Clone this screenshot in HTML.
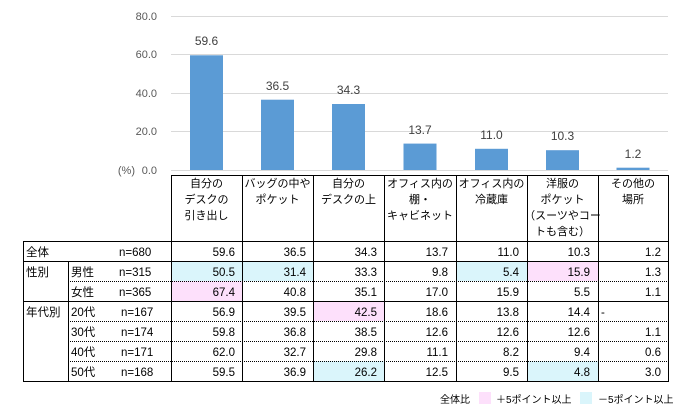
<!DOCTYPE html>
<html><head><meta charset="utf-8"><style>
body{margin:0;background:#fff}
svg{display:block;font-family:"Liberation Sans","Noto Sans CJK JP",sans-serif}
</style></head><body>
<svg width="685" height="411" viewBox="0 0 685 411" xmlns="http://www.w3.org/2000/svg">
<g stroke="#d9d9d9" stroke-width="1">
<line x1="171" y1="16.5" x2="668" y2="16.5"/><line x1="171" y1="54.5" x2="668" y2="54.5"/>
<line x1="171" y1="93.5" x2="668" y2="93.5"/><line x1="171" y1="131.5" x2="668" y2="131.5"/>
<line x1="171" y1="170.5" x2="668" y2="170.5"/></g>
<g font-size="11" fill="#595959" text-anchor="end">
<text x="157" y="20">80.0</text><text x="157" y="58">60.0</text><text x="157" y="97">40.0</text>
<text x="157" y="135">20.0</text><text x="157" y="174">0.0</text><text x="135" y="174">(%)</text></g>
<g fill="#5b9bd5">
<rect x="190" y="55.3" width="33" height="114.7"/><rect x="261" y="99.7" width="33" height="70.3"/>
<rect x="332" y="104" width="33" height="66"/><rect x="403.5" y="143.6" width="33" height="26.4"/>
<rect x="475" y="148.8" width="33" height="21.2"/><rect x="546" y="150.2" width="33" height="19.8"/>
<rect x="616.5" y="167.7" width="33" height="2.3"/></g>
<g font-size="12" fill="#404040" text-anchor="middle">
<text x="206.5" y="45">59.6</text><text x="277.5" y="90">36.5</text><text x="348.5" y="94">34.3</text>
<text x="420" y="134">13.7</text><text x="491.5" y="139">11.0</text><text x="562.5" y="140">10.3</text><text x="633" y="158">1.2</text></g>
<!-- highlights -->
<g fill="#fde0fb"><rect x="171" y="281" width="71" height="20"/><rect x="313" y="301" width="71" height="20"/><rect x="527" y="261" width="71" height="20"/></g>
<g fill="#daf5fb"><rect x="171" y="261" width="71" height="20"/><rect x="242" y="261" width="71" height="20"/><rect x="456" y="261" width="71" height="20"/><rect x="313" y="361" width="71" height="20"/><rect x="527" y="361" width="71" height="20"/></g>
<!-- grid -->
<g stroke="#000" stroke-width="1" fill="none">
<line x1="171" y1="175.5" x2="668" y2="175.5"/>
<line x1="23" y1="241.5" x2="668" y2="241.5"/>
<line x1="23" y1="261.5" x2="668" y2="261.5"/>
<line x1="23" y1="301.5" x2="668" y2="301.5"/>
<line x1="23" y1="381.5" x2="668" y2="381.5"/>
<line x1="23.5" y1="241" x2="23.5" y2="382"/>
<line x1="68.5" y1="261" x2="68.5" y2="382"/>
<line x1="171.5" y1="175" x2="171.5" y2="382"/><line x1="242.5" y1="175" x2="242.5" y2="382"/>
<line x1="313.5" y1="175" x2="313.5" y2="382"/><line x1="384.5" y1="175" x2="384.5" y2="382"/>
<line x1="456.5" y1="175" x2="456.5" y2="382"/><line x1="527.5" y1="175" x2="527.5" y2="382"/>
<line x1="598.5" y1="175" x2="598.5" y2="382"/><line x1="668.5" y1="175" x2="668.5" y2="382"/>
</g>
<g stroke="#000" stroke-width="1" stroke-dasharray="1,1">
<line x1="68" y1="281.5" x2="668" y2="281.5"/><line x1="68" y1="321.5" x2="668" y2="321.5"/>
<line x1="68" y1="341.5" x2="668" y2="341.5"/><line x1="68" y1="361.5" x2="668" y2="361.5"/></g>
<!-- header -->
<g font-size="11" fill="#000" text-anchor="middle">
<text x="206.5" y="187">自分の</text><text x="206.5" y="203">デスクの</text><text x="206.5" y="219">引き出し</text>
<text x="277.5" y="187">バッグの中や</text><text x="277.5" y="203">ポケット</text>
<text x="348.5" y="187">自分の</text><text x="348.5" y="203">デスクの上</text>
<text x="420" y="187">オフィス内の</text><text x="420" y="203">棚・</text><text x="420" y="219">キャビネット</text>
<text x="491.5" y="187">オフィス内の</text><text x="491.5" y="203">冷蔵庫</text>
<text x="562.5" y="187">洋服の</text><text x="562.5" y="203">ポケット</text><text x="562.5" y="219">（スーツやコー</text><text x="562.5" y="235">トも含む）</text>
<text x="633" y="187">その他の</text><text x="633" y="203">場所</text></g>
<!-- row labels -->
<g font-size="11.5" fill="#000">
<text x="26" y="256">全体</text><text x="119" y="256">n=680</text>
<text x="26" y="276">性別</text><text x="71" y="276">男性</text><text x="119" y="276">n=315</text>
<text x="71" y="296">女性</text><text x="119" y="296">n=365</text>
<text x="26" y="316">年代別</text><text x="71" y="316">20代</text><text x="121" y="316">n=167</text>
<text x="71" y="336">30代</text><text x="121" y="336">n=174</text>
<text x="71" y="356">40代</text><text x="121" y="356">n=171</text>
<text x="71" y="376">50代</text><text x="121" y="376">n=168</text>
<text x="601" y="316">-</text></g>
<g font-size="11.5" fill="#000" text-anchor="end">
<text x="235" y="256">59.6</text><text x="306" y="256">36.5</text><text x="377" y="256">34.3</text><text x="448" y="256">13.7</text><text x="519" y="256">11.0</text><text x="590" y="256">10.3</text><text x="661" y="256">1.2</text>
<text x="235" y="276">50.5</text><text x="306" y="276">31.4</text><text x="377" y="276">33.3</text><text x="448" y="276">9.8</text><text x="519" y="276">5.4</text><text x="590" y="276">15.9</text><text x="661" y="276">1.3</text>
<text x="235" y="296">67.4</text><text x="306" y="296">40.8</text><text x="377" y="296">35.1</text><text x="448" y="296">17.0</text><text x="519" y="296">15.9</text><text x="590" y="296">5.5</text><text x="661" y="296">1.1</text>
<text x="235" y="316">56.9</text><text x="306" y="316">39.5</text><text x="377" y="316">42.5</text><text x="448" y="316">18.6</text><text x="519" y="316">13.8</text><text x="590" y="316">14.4</text>
<text x="235" y="336">59.8</text><text x="306" y="336">36.8</text><text x="377" y="336">38.5</text><text x="448" y="336">12.6</text><text x="519" y="336">12.6</text><text x="590" y="336">12.6</text><text x="661" y="336">1.1</text>
<text x="235" y="356">62.0</text><text x="306" y="356">32.7</text><text x="377" y="356">29.8</text><text x="448" y="356">11.1</text><text x="519" y="356">8.2</text><text x="590" y="356">9.4</text><text x="661" y="356">0.6</text>
<text x="235" y="376">59.5</text><text x="306" y="376">36.9</text><text x="377" y="376">26.2</text><text x="448" y="376">12.5</text><text x="519" y="376">9.5</text><text x="590" y="376">4.8</text><text x="661" y="376">3.0</text>
</g>
<!-- legend -->
<g font-size="10" fill="#000">
<text x="440" y="403">全体比</text>
<rect x="479" y="392" width="12" height="12" fill="#fde0fb"/>
<text x="496" y="403">＋5ポイント以上</text>
<rect x="580" y="392" width="12" height="12" fill="#daf5fb"/>
<text x="598" y="403">－5ポイント以上</text></g>
</svg>
</body></html>
